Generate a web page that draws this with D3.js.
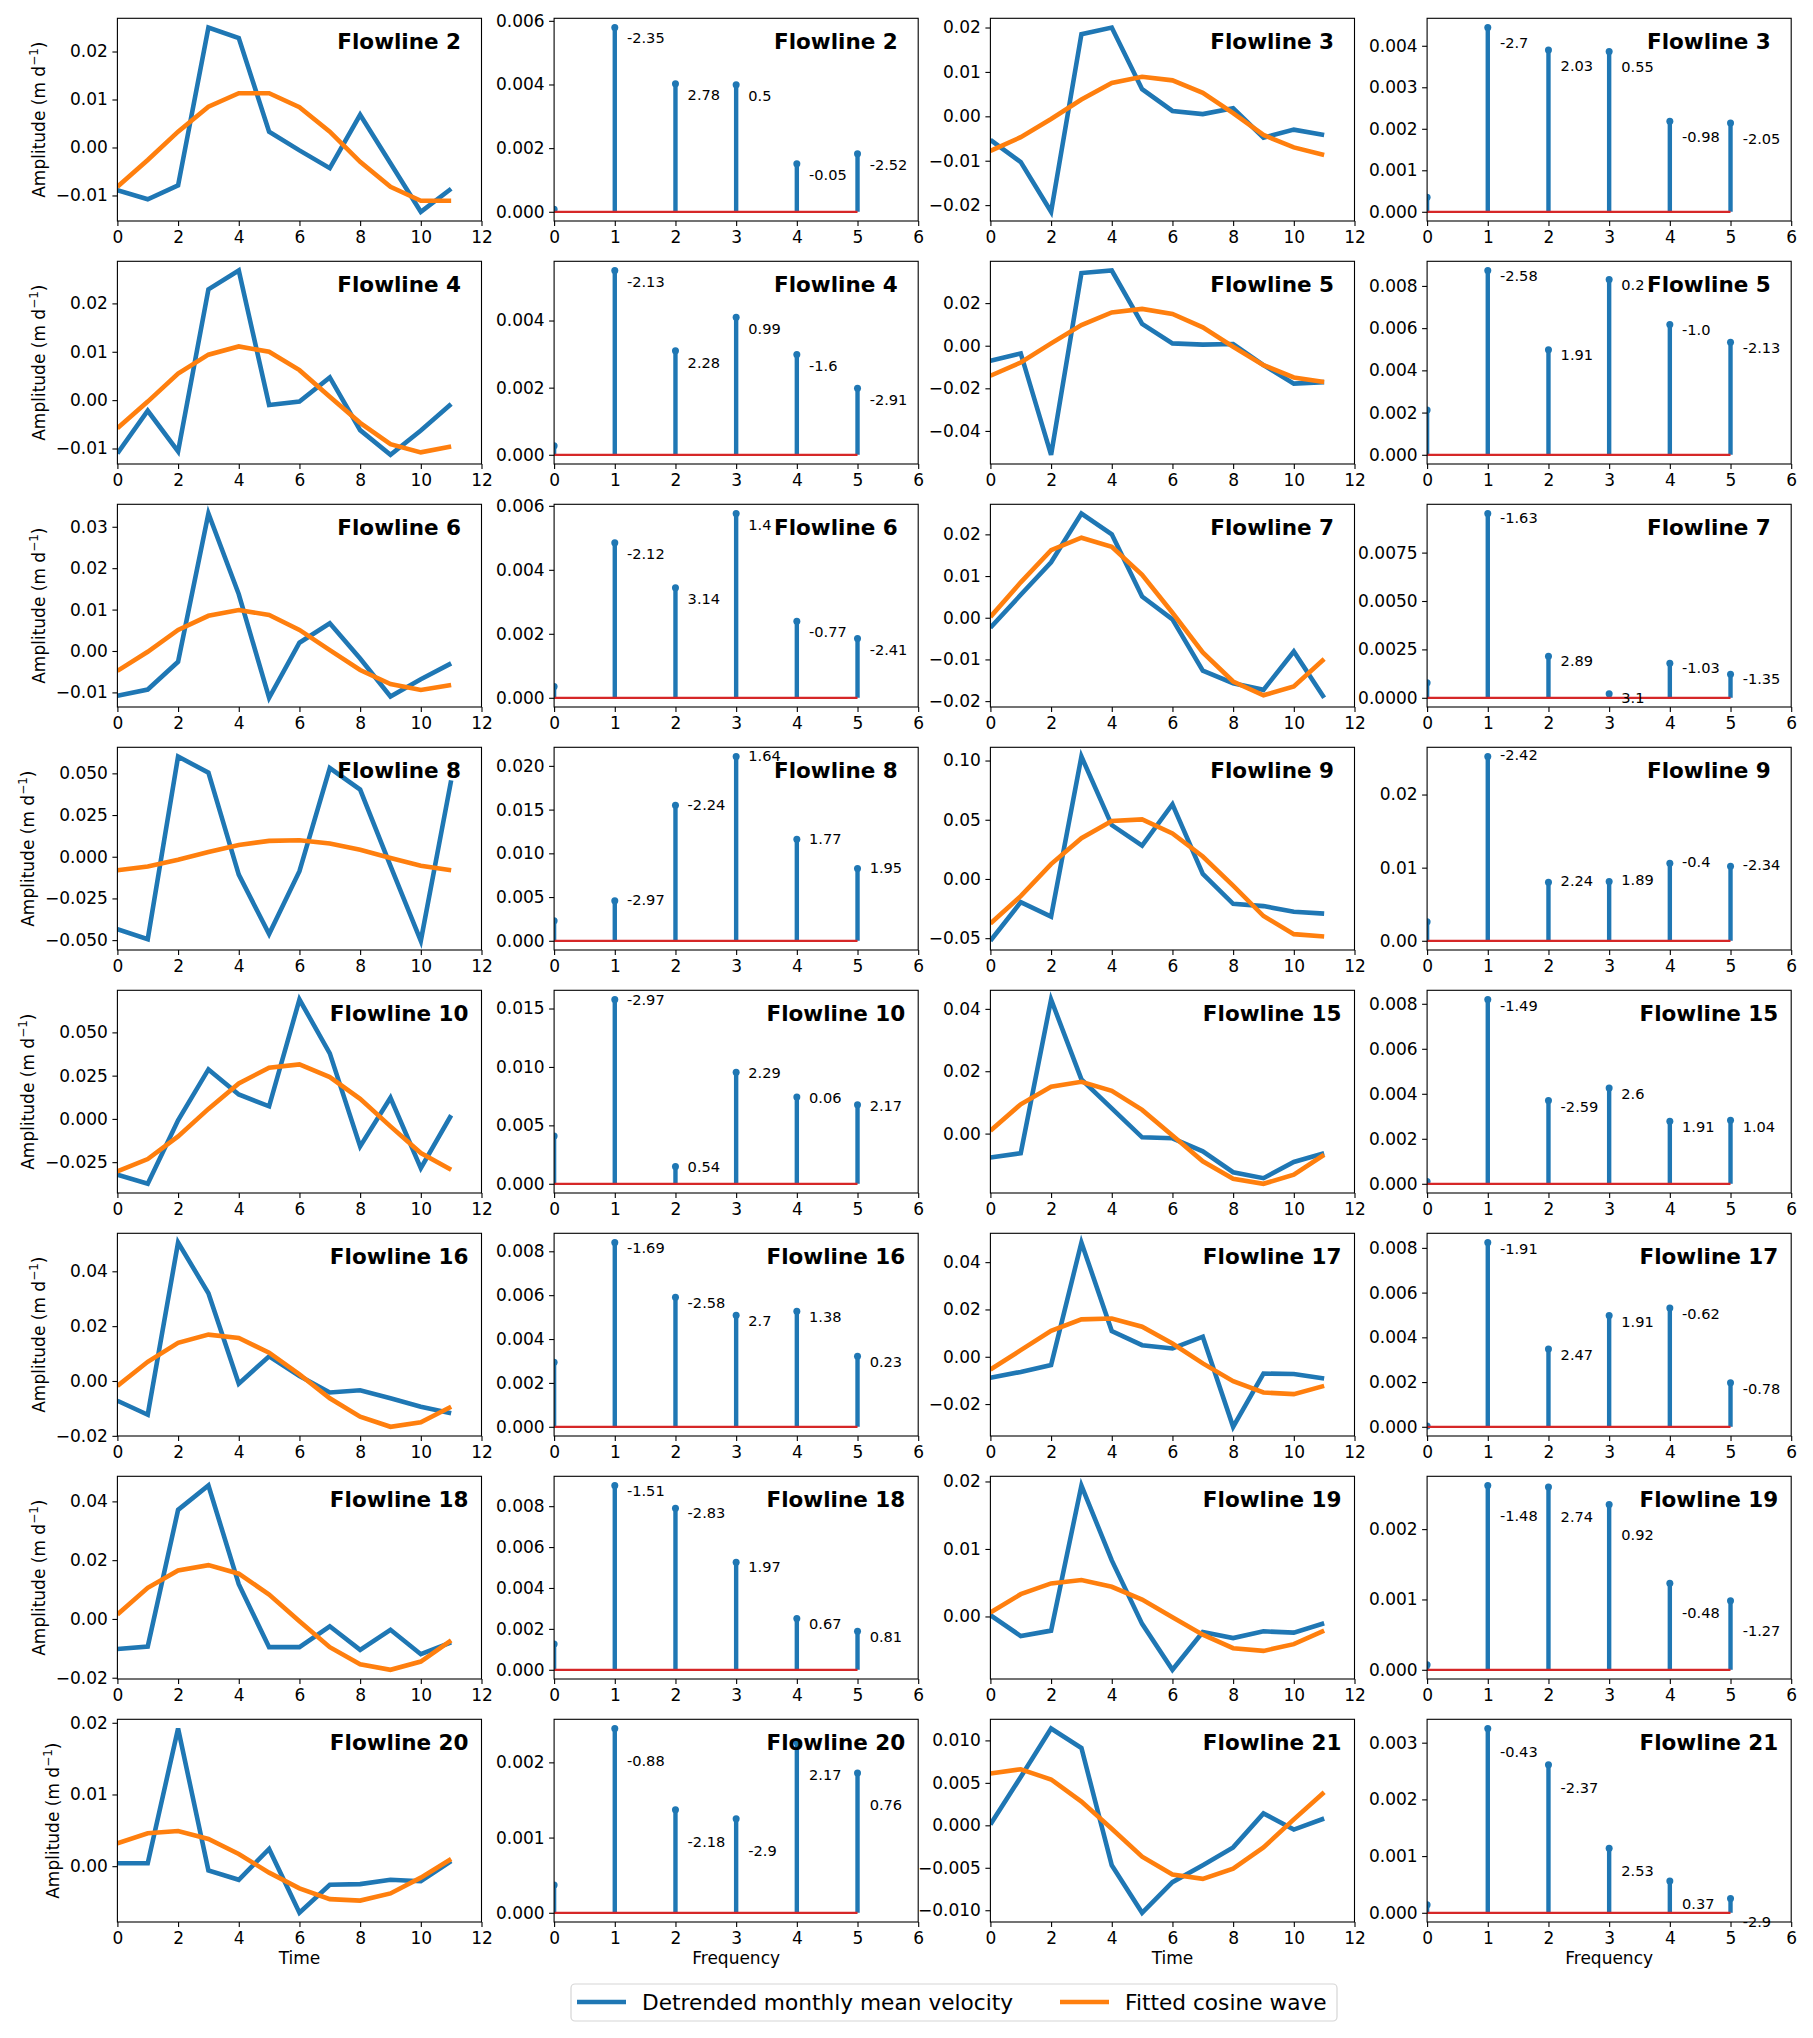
<!DOCTYPE html>
<html>
<head>
<meta charset="UTF-8">
<script src="https://d3js.org/d3.v7.min.js"></script>
<style>
  body { margin: 0; background: #fff; }
  text { font-family: "DejaVu Sans", sans-serif; }
</style>
</head>
<body>
<div id="fig"></div>
<script>
// ---- data ----
const flowlines = [2, 3, 4, 5, 6, 7, 8, 9, 10, 15, 16, 17, 18, 19, 20, 21];
const months = [0, 1, 2, 3, 4, 5, 6, 7, 8, 9, 10, 11];
const freqs = [0, 1, 2, 3, 4, 5];

// detrended monthly mean velocity (blue)
const detrended = [
  [-0.0089, -0.0108, -0.0079, 0.0250, 0.0228, 0.0033, -0.0006, -0.0043, 0.0068, -0.0033, -0.0134, -0.0086],
  [-0.0053, -0.0103, -0.0215, 0.0185, 0.0200, 0.0061, 0.0012, 0.0005, 0.0018, -0.0048, -0.0030, -0.0042],
  [-0.0110, -0.0022, -0.0106, 0.0229, 0.0268, -0.0010, -0.0003, 0.0047, -0.0062, -0.0113, -0.0063, -0.0008],
  [-0.0071, -0.0036, -0.0512, 0.0341, 0.0353, 0.0102, 0.0011, 0.0005, 0.0008, -0.0091, -0.0178, -0.0171],
  [-0.0108, -0.0093, -0.0026, 0.0332, 0.0137, -0.0113, 0.0020, 0.0067, -0.0018, -0.0110, -0.0068, -0.0030],
  [-0.0024, 0.0055, 0.0133, 0.0250, 0.0200, 0.0051, -0.0004, -0.0127, -0.0157, -0.0173, -0.0081, -0.0192],
  [-0.0435, -0.0494, 0.0601, 0.0504, -0.0107, -0.0464, -0.0087, 0.0532, 0.0403, -0.0055, -0.0504, 0.0458],
  [-0.0522, -0.0196, -0.0318, 0.1034, 0.0455, 0.0282, 0.0631, 0.0042, -0.0210, -0.0229, -0.0277, -0.0293],
  [-0.0323, -0.0375, -0.0008, 0.0286, 0.0141, 0.0073, 0.0690, 0.0379, -0.0159, 0.0122, -0.0284, 0.0021],
  [-0.0077, -0.0063, 0.0430, 0.0174, 0.0081, -0.0012, -0.0015, -0.0057, -0.0124, -0.0143, -0.0091, -0.0063],
  [-0.0072, -0.0123, 0.0505, 0.0320, -0.0010, 0.0090, 0.0018, -0.0042, -0.0034, -0.0063, -0.0094, -0.0118],
  [-0.0089, -0.0064, -0.0035, 0.0483, 0.0109, 0.0049, 0.0035, 0.0085, -0.0296, -0.0071, -0.0073, -0.0092],
  [-0.0102, -0.0094, 0.0371, 0.0454, 0.0118, -0.0096, -0.0096, -0.0025, -0.0105, -0.0037, -0.0120, -0.0080],
  [0.0002, -0.0029, -0.0021, 0.0194, 0.0083, -0.0011, -0.0079, -0.0023, -0.0032, -0.0022, -0.0024, -0.0010],
  [0.0004, 0.0004, 0.0192, -0.0006, -0.0019, 0.0024, -0.0065, -0.0026, -0.0025, -0.0019, -0.0021, 0.0007],
  [0.0001, 0.0057, 0.0114, 0.0091, -0.0047, -0.0103, -0.0067, -0.0047, -0.0026, 0.0014, -0.0005, 0.0008]
];

// fitted cosine wave (orange)
const fitted = [
  [-0.0082, -0.0026, 0.0033, 0.0085, 0.0113, 0.0113, 0.0084, 0.0033, -0.0030, -0.0082, -0.0111, -0.0111],
  [-0.0078, -0.0047, -0.0006, 0.0038, 0.0075, 0.0089, 0.0081, 0.0053, 0.0007, -0.0042, -0.0070, -0.0087],
  [-0.0058, -0.0003, 0.0055, 0.0094, 0.0111, 0.0100, 0.0062, 0.0007, -0.0047, -0.0091, -0.0108, -0.0096],
  [-0.0141, -0.0079, 0.0011, 0.0097, 0.0156, 0.0173, 0.0149, 0.0086, -0.0005, -0.0091, -0.0149, -0.0170],
  [-0.0048, -0.0002, 0.0051, 0.0085, 0.0099, 0.0087, 0.0051, 0.0002, -0.0046, -0.0080, -0.0094, -0.0082],
  [0.0002, 0.0085, 0.0162, 0.0192, 0.0170, 0.0103, 0.0012, -0.0083, -0.0153, -0.0186, -0.0165, -0.0099],
  [-0.0081, -0.0058, -0.0018, 0.0028, 0.0071, 0.0095, 0.0099, 0.0079, 0.0042, -0.0008, -0.0054, -0.0081],
  [-0.0377, -0.0145, 0.0126, 0.0344, 0.0489, 0.0503, 0.0385, 0.0190, -0.0056, -0.0313, -0.0466, -0.0486],
  [-0.0303, -0.0232, -0.0101, 0.0058, 0.0205, 0.0296, 0.0315, 0.0242, 0.0116, -0.0043, -0.0197, -0.0294],
  [0.0009, 0.0094, 0.0150, 0.0166, 0.0137, 0.0076, -0.0006, -0.0089, -0.0145, -0.0161, -0.0132, -0.0068],
  [-0.0018, 0.0070, 0.0139, 0.0169, 0.0157, 0.0103, 0.0024, -0.0063, -0.0130, -0.0167, -0.0151, -0.0094],
  [-0.0054, 0.0028, 0.0110, 0.0158, 0.0162, 0.0127, 0.0056, -0.0028, -0.0103, -0.0151, -0.0158, -0.0123],
  [0.0015, 0.0106, 0.0165, 0.0183, 0.0154, 0.0083, -0.0008, -0.0096, -0.0154, -0.0173, -0.0145, -0.0073],
  [0.0006, 0.0033, 0.0049, 0.0054, 0.0044, 0.0025, -0.0001, -0.0027, -0.0047, -0.0051, -0.0041, -0.0021],
  [0.0032, 0.0046, 0.0049, 0.0038, 0.0017, -0.0009, -0.0031, -0.0046, -0.0048, -0.0038, -0.0016, 0.0010],
  [0.0061, 0.0066, 0.0054, 0.0028, -0.0004, -0.0037, -0.0058, -0.0063, -0.0051, -0.0026, 0.0007, 0.0039]
];

// spectrum amplitude per frequency 0..5
const amplitude = [
  [0.00008, 0.00579, 0.00402, 0.00399, 0.00151, 0.00182],
  [0.00035, 0.00444, 0.00390, 0.00386, 0.00218, 0.00214],
  [0.00027, 0.00549, 0.00310, 0.00410, 0.00299, 0.00198],
  [0.00212, 0.00873, 0.00498, 0.00830, 0.00617, 0.00533],
  [0.00035, 0.00485, 0.00344, 0.00576, 0.00239, 0.00185],
  [0.00078, 0.00952, 0.00214, 0.00021, 0.00179, 0.00121],
  [0.00229, 0.00457, 0.01550, 0.02107, 0.01162, 0.00827],
  [0.00260, 0.02520, 0.00800, 0.00810, 0.01060, 0.01020],
  [0.00410, 0.01577, 0.00149, 0.00954, 0.00743, 0.00677],
  [0.00010, 0.00819, 0.00370, 0.00426, 0.00278, 0.00282],
  [0.00294, 0.00840, 0.00590, 0.00509, 0.00527, 0.00322],
  [0.00004, 0.00824, 0.00348, 0.00498, 0.00531, 0.00197],
  [0.00126, 0.00901, 0.00790, 0.00526, 0.00251, 0.00188],
  [0.00007, 0.00262, 0.00260, 0.00235, 0.00123, 0.00098],
  [0.00037, 0.00245, 0.00137, 0.00125, 0.00227, 0.00186],
  [0.00014, 0.00325, 0.00261, 0.00114, 0.00056, 0.00025]
];

// phase labels for frequencies 1..5
const phaseLabels = [
  ["-2.35", "2.78", "0.5", "-0.05", "-2.52"],
  ["-2.7", "2.03", "0.55", "-0.98", "-2.05"],
  ["-2.13", "2.28", "0.99", "-1.6", "-2.91"],
  ["-2.58", "1.91", "0.2", "-1.0", "-2.13"],
  ["-2.12", "3.14", "1.4", "-0.77", "-2.41"],
  ["-1.63", "2.89", "3.1", "-1.03", "-1.35"],
  ["-2.97", "-2.24", "1.64", "1.77", "1.95"],
  ["-2.42", "2.24", "1.89", "-0.4", "-2.34"],
  ["-2.97", "0.54", "2.29", "0.06", "2.17"],
  ["-1.49", "-2.59", "2.6", "1.91", "1.04"],
  ["-1.69", "-2.58", "2.7", "1.38", "0.23"],
  ["-1.91", "2.47", "1.91", "-0.62", "-0.78"],
  ["-1.51", "-2.83", "1.97", "0.67", "0.81"],
  ["-1.48", "2.74", "0.92", "-0.48", "-1.27"],
  ["-0.88", "-2.18", "-2.9", "2.17", "0.76"],
  ["-0.43", "-2.37", "2.53", "0.37", "-2.9"]
];

// y tick spacing per panel
const timeTickStep = [0.01, 0.01, 0.01, 0.02, 0.01, 0.01, 0.025, 0.05, 0.025, 0.02, 0.02, 0.02, 0.02, 0.01, 0.01, 0.005];
const ampTickStep = [0.002, 0.001, 0.002, 0.002, 0.002, 0.0025, 0.005, 0.01, 0.005, 0.002, 0.002, 0.002, 0.002, 0.001, 0.001, 0.001];

// ---- layout ----
const width = 1813, height = 2038;
const colLeft = [117.4, 554.1, 990.4, 1427.1];
const axW = 364.1, axH = 202.7;
const rowTop0 = 18.3, rowPitch = 243;
const blue = "#1f77b4", orange = "#ff7f0e", red = "#d62728";

const svg = d3.select("#fig").append("svg")
  .attr("width", width).attr("height", height);
svg.append("rect").attr("width", width).attr("height", height).attr("fill", "#fff");
const defs = svg.append("defs");

function niceTicks(dom, step) {
  const out = [];
  for (let k = Math.ceil(dom[0] / step - 1e-9); k * step <= dom[1] + 1e-12; k++) out.push(k * step);
  return out;
}
function stepFormat(step) {
  const dec = (String(step).split(".")[1] || "").length;
  return d3.format(`.${dec}f`);
}
function autoDomain(vals) {
  const lo = d3.min(vals), hi = d3.max(vals), m = (hi - lo) * 0.05;
  return [lo - m, hi + m];
}

function makeAxes(left, top, id) {
  const g = svg.append("g").attr("transform", `translate(${left},${top})`);
  defs.append("clipPath").attr("id", id)
    .append("rect").attr("width", axW).attr("height", axH);
  return g;
}

function styleAxis(sel) {
  sel.select(".domain").remove();
  sel.selectAll(".tick line").attr("stroke", "#000").attr("stroke-width", 1.1);
  sel.selectAll(".tick text").attr("font-size", 17).attr("fill", "#000")
     .attr("font-family", "DejaVu Sans");
}

function frame(g) {
  g.append("rect").attr("width", axW).attr("height", axH)
    .attr("fill", "none").attr("stroke", "#000").attr("stroke-width", 1.1);
}

function title(g, i) {
  g.append("text").attr("x", 281.8).attr("y", 30.5)
    .attr("text-anchor", "middle").attr("font-size", 21.5).attr("font-weight", "bold")
    .text("Flowline " + flowlines[i]);
}

function drawTime(g, i, clipId) {
  let x = d3.scaleLinear().domain([0, 12]).range([0, axW]);
  let y = d3.scaleLinear().domain(autoDomain(detrended[i].concat(fitted[i]))).range([axH, 0]);
  let line = d3.line().x((d, k) => x(months[k])).y(d => y(d));
  let plot = g.append("g").attr("clip-path", `url(#${clipId})`);
  plot.append("path").attr("d", line(detrended[i]))
    .attr("fill", "none").attr("stroke", blue).attr("stroke-width", 4.6);
  plot.append("path").attr("d", line(fitted[i]))
    .attr("fill", "none").attr("stroke", orange).attr("stroke-width", 4.6);

  let step = timeTickStep[i];
  let yAxis = g.append("g").call(d3.axisLeft(y).tickValues(niceTicks(y.domain(), step))
      .tickFormat(stepFormat(step)).tickSize(5).tickPadding(4.5))
    .call(styleAxis);
  g.append("g").attr("transform", `translate(0,${axH})`)
    .call(d3.axisBottom(x).tickValues([0, 2, 4, 6, 8, 10, 12]).tickFormat(d3.format("d"))
      .tickSize(5).tickPadding(5))
    .call(styleAxis);
  frame(g);
  title(g, i);
  return yAxis;
}

function drawStem(g, i, clipId) {
  let x = d3.scaleLinear().domain([0, 6]).range([0, axW]);
  let amp = amplitude[i];
  let y = d3.scaleLinear().domain(autoDomain(amp.concat([0]))).range([axH, 0]);
  let plot = g.append("g").attr("clip-path", `url(#${clipId})`);
  plot.selectAll("line.stem").data(amp).enter().append("line")
    .attr("class", "stem")
    .attr("x1", (d, k) => x(freqs[k])).attr("x2", (d, k) => x(freqs[k]))
    .attr("y1", y(0)).attr("y2", d => y(d))
    .attr("stroke", blue).attr("stroke-width", 4.4);
  plot.selectAll("circle").data(amp).enter().append("circle")
    .attr("cx", (d, k) => x(freqs[k])).attr("cy", d => y(d))
    .attr("r", 3.5).attr("fill", blue);
  plot.append("line")
    .attr("x1", x(0)).attr("x2", x(5)).attr("y1", y(0)).attr("y2", y(0))
    .attr("stroke", red).attr("stroke-width", 2.2);

  let step = ampTickStep[i];
  g.append("g").call(d3.axisLeft(y).tickValues(niceTicks(y.domain(), step))
      .tickFormat(stepFormat(step)).tickSize(5).tickPadding(4.5))
    .call(styleAxis);
  g.append("g").attr("transform", `translate(0,${axH})`)
    .call(d3.axisBottom(x).tickValues([0, 1, 2, 3, 4, 5, 6]).tickFormat(d3.format("d"))
      .tickSize(5).tickPadding(5))
    .call(styleAxis);
  frame(g);

  // phase annotations
  g.selectAll("text.phase").data(phaseLabels[i]).enter().append("text")
    .attr("class", "phase")
    .attr("x", (d, k) => x(freqs[k + 1] + 0.2))
    .attr("y", (d, k) => y(amp[k + 1] - 0.0005))
    .attr("font-size", 14.6)
    .text(d => d);
  title(g, i);
}

for (let r = 0; r < 8; r++) {
  const top = rowTop0 + r * rowPitch;
  for (let half = 0; half < 2; half++) {
    const i = r * 2 + half;
    const gT = makeAxes(colLeft[half * 2], top, `clipT${i}`);
    const yAxis = drawTime(gT, i, `clipT${i}`);
    const gS = makeAxes(colLeft[half * 2 + 1], top, `clipS${i}`);
    drawStem(gS, i, `clipS${i}`);
    if (half === 0) {
      // place the y label clear of the tick labels, like matplotlib does
      let minX = d3.min(yAxis.selectAll(".tick text").nodes(), n => n.getBBox().x);
      const yl = gT.append("text")
        .attr("transform", `translate(${minX - 10.8},${axH / 2}) rotate(-90)`)
        .attr("text-anchor", "middle").attr("font-size", 17);
      yl.append("tspan").text("Amplitude (m d");
      yl.append("tspan").attr("font-size", 12).attr("dy", -7).text("\u22121");
      yl.append("tspan").attr("dy", 7).text(")");
    }
    if (r === 7) {
      gT.append("text").attr("x", axW / 2).attr("y", axH + 42)
        .attr("text-anchor", "middle").attr("font-size", 17).text("Time");
      gS.append("text").attr("x", axW / 2).attr("y", axH + 42)
        .attr("text-anchor", "middle").attr("font-size", 17).text("Frequency");
    }
  }
}

// legend
const lg = svg.append("g");
lg.append("rect").attr("x", 571).attr("y", 1984).attr("width", 766).attr("height", 37)
  .attr("rx", 4).attr("fill", "#fff").attr("stroke", "#d6d6d6").attr("stroke-width", 1.2);
const legendItems = [
  {label: "Detrended monthly mean velocity", color: blue, x: 577},
  {label: "Fitted cosine wave", color: orange, x: 1060}
];
legendItems.forEach(d => {
  lg.append("line").attr("x1", d.x).attr("x2", d.x + 49).attr("y1", 2002).attr("y2", 2002)
    .attr("stroke", d.color).attr("stroke-width", 4.6);
  lg.append("text").attr("x", d.x + 65).attr("y", 2009.5).attr("font-size", 21.7).text(d.label);
});
</script>
</body>
</html>
